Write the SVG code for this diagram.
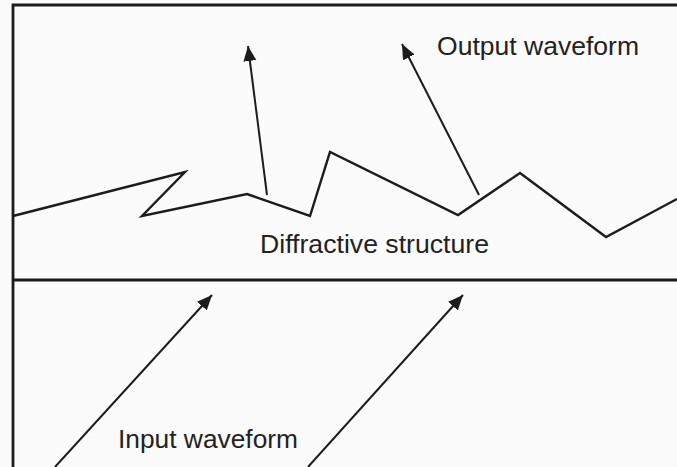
<svg xmlns="http://www.w3.org/2000/svg" width="677" height="467" viewBox="0 0 677 467">
<style>
.frame{fill:none;stroke:#1c1c1c;stroke-width:2.8}
.wave{fill:none;stroke:#1c1c1c;stroke-width:2.4;stroke-linejoin:miter}
.arrow{fill:none;stroke:#1c1c1c;stroke-width:2}
.lbl{font-family:"Liberation Sans",Arial,sans-serif;font-size:26.5px;fill:#222}
</style>
<defs>
<marker id="ah" markerUnits="userSpaceOnUse" markerWidth="18" markerHeight="14" refX="15" refY="6.5" orient="auto">
<path d="M0,0 L15,6.5 L0,13 Z" fill="#1c1c1c"/>
</marker>
</defs>
<rect width="677" height="467" fill="#fbfbfb"/>
<g id="frame">
<path class="frame" d="M13,467 V5 H677"/>
<line class="frame" x1="13" y1="280" x2="677" y2="280" stroke-width="2.4"/>
</g>
<g id="diffractive-structure">
<polyline class="wave" points="13,216 185,172 142,216 247,194 310,216 330,152 458,215 520,173 606,237 677,199"/>
<text class="lbl" x="260" y="253" textLength="229" lengthAdjust="spacingAndGlyphs">Diffractive structure</text>
</g>
<g id="output-waveform">
<text class="lbl" x="437" y="55" textLength="202" lengthAdjust="spacingAndGlyphs">Output waveform</text>
</g>
<g id="input-waveform">
<text class="lbl" x="118" y="448" textLength="180" lengthAdjust="spacingAndGlyphs">Input waveform</text>
</g>
<g id="connectors">
<line class="arrow" x1="267" y1="195" x2="248" y2="46" marker-end="url(#ah)"/>
<line class="arrow" x1="479" y1="195" x2="402" y2="44" marker-end="url(#ah)"/>
<line class="arrow" x1="55" y1="467" x2="212" y2="295" marker-end="url(#ah)"/>
<line class="arrow" x1="308" y1="467" x2="463" y2="295" marker-end="url(#ah)"/>
</g>
</svg>
